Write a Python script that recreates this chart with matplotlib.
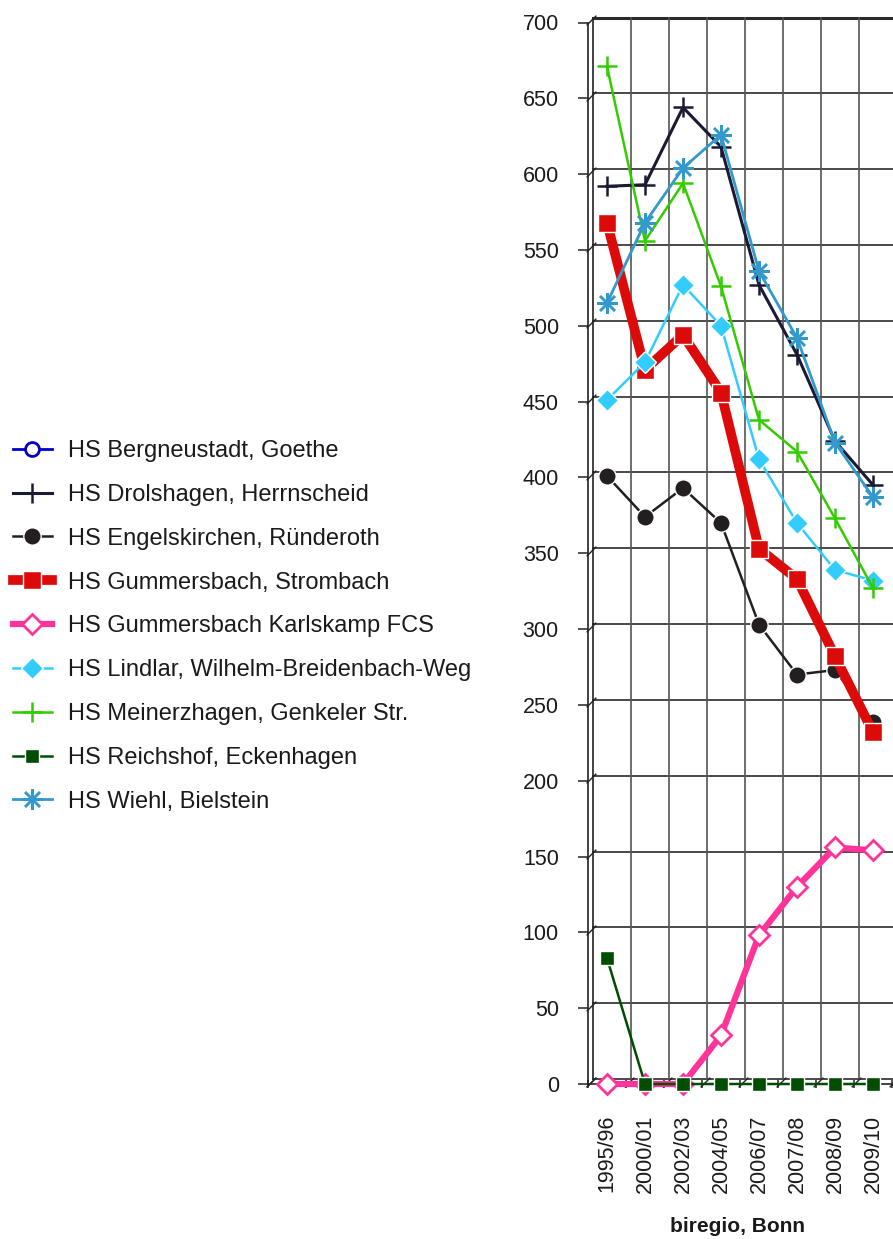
import numpy as np
import matplotlib
matplotlib.use("Agg")
import matplotlib.pyplot as plt
from matplotlib.transforms import ScaledTranslation

plt.rcParams["font.family"] = ["Liberation Sans", "DejaVu Sans"]

years = ["1995/96", "2000/01", "2002/03", "2004/05", "2006/07",
         "2007/08", "2008/09", "2009/10"]

bergneustadt  = [np.nan] * 8
drolshagen    = [592, 593, 644, 618, 527, 481, 424, 395]
engelskirchen = [401, 374, 393, 370, 303, 270, 273, 239]
strombach     = [568, 471, 494, 456, 353, 333, 282, 232]
karlskamp     = [0, 0, 0, 32, 98, 130, 156, 154]
lindlar       = [451, 476, 527, 500, 412, 370, 339, 332]
meinerzhagen  = [671, 556, 594, 526, 438, 417, 373, 327]
reichshof     = [83, 0, 0, 0, 0, 0, 0, 0]
wiehl         = [515, 568, 604, 626, 536, 492, 423, 387]

labels = ["HS Bergneustadt, Goethe", "HS Drolshagen, Herrnscheid",
          "HS Engelskirchen, Ründeroth", "HS Gummersbach, Strombach",
          "HS Gummersbach Karlskamp FCS", "HS Lindlar, Wilhelm-Breidenbach-Weg",
          "HS Meinerzhagen, Genkeler Str.", "HS Reichshof, Eckenhagen",
          "HS Wiehl, Bielstein"]

series = [bergneustadt, drolshagen, engelskirchen, strombach, karlskamp,
          lindlar, meinerzhagen, reichshof, wiehl]

styles = [
    dict(color="#0000cc", marker="o", ms=10, mfc="white", mec="#0000cc", mew=2, lw=2),
    dict(color="#1a1a33", marker="+", ms=14, mew=1.8, lw=2.2),
    dict(color="#231f20", marker="o", ms=12.5, mec="white", mew=1, lw=1.8),
    dict(color="#dd0a0a", marker="s", ms=13.5, mec="white", mew=1, lw=7),
    dict(color="#ff3399", marker="D", ms=10, mfc="white", mec="#ff3399", mew=2, lw=4.5),
    dict(color="#33ccff", marker="D", ms=11, mec="white", mew=1, lw=1.8),
    dict(color="#33cc00", marker="+", ms=15, mew=1.8, lw=1.8),
    dict(color="#004d00", marker="s", ms=10, mec="white", mew=1, lw=1.8),
    dict(color="#3399cc", marker=(8, 2, 0), ms=15, mew=1.8, lw=2),
]

W, H = 893, 1239
fig = plt.figure(figsize=(W / 100, H / 100), dpi=100)
x0, y0, ytop = 588, 1084, 22.5
xmax = 8.5
ax = fig.add_axes([x0 / W, 1 - y0 / H, (xmax + 0.5) * 38 / W, (y0 - ytop) / H])

x = np.arange(len(years))
lines = []
for vals, lab, st in zip(series, labels, styles):
    ln, = ax.plot(x, vals, label=lab, zorder=3, clip_on=False, **st)
    lines.append(ln)

ax.set_xlim(-0.5, xmax)
ax.set_ylim(0, 700)

# back wall grid (3D offset)
back = ax.transData + ScaledTranslation(0.05, 0.05, fig.dpi_scale_trans)
gcol = "#2a2a2a"
for yv in range(0, 701, 50):
    ax.plot([-0.5, xmax + 1], [yv, yv], transform=back, color=gcol,
            lw=2.2 if yv == 700 else 1.2, clip_on=False, zorder=1)
for k in range(10):
    ax.plot([k - 0.5, k - 0.5], [0, 700], transform=back,
            color="#555555" if k else "#222222", lw=1.2, clip_on=False, zorder=1)

# small diagonal connectors between front axis and back wall
mid = ax.transData + ScaledTranslation(0.025, 0.025, fig.dpi_scale_trans)
diag = [(-1, -1), (1, 1)]
ax.plot([-0.5] * 15, list(range(0, 701, 50)), transform=mid, ls="none",
        marker=diag, ms=7, mew=1, color="#222222", clip_on=False, zorder=1)
ax.plot(np.arange(9) - 0.5, [0] * 9, transform=mid, ls="none",
        marker=diag, ms=7, mew=1, color="#222222", clip_on=False, zorder=1)

for s in ["top", "right"]:
    ax.spines[s].set_visible(False)
ax.spines["left"].set_color("#222222")
ax.spines["bottom"].set_color("#222222")
ax.spines["left"].set_linewidth(1.2)
ax.spines["bottom"].set_linewidth(1.2)

ax.set_yticks(range(0, 701, 50))
ax.tick_params(axis="y", length=7, width=1.1, color="#222222", pad=14,
               labelsize=15.5, labelcolor="#1a1a1a")
ax.set_xticks(x)
ax.set_xticklabels(years, rotation=90, va="top", ha="center")
ax.tick_params(axis="x", length=0, pad=22, labelsize=15.5, labelcolor="#1a1a1a")
ax.set_xticks(np.arange(10) - 0.5, minor=True)
ax.tick_params(axis="x", which="minor", length=6, width=1.1, direction="inout",
               color="#222222")

fig.text(738 / W, 1 - 1227 / H, "biregio, Bonn", ha="center", va="center",
         fontsize=15, fontweight="bold", color="#1a1a1a")

fig.legend(handles=lines, labels=labels, loc="upper left",
           bbox_to_anchor=(13 / W, 1 - 440 / H), frameon=False, fontsize=17,
           handlelength=1.65, handletextpad=0.68, labelspacing=0.925,
           borderpad=0, borderaxespad=0, labelcolor="#1a1a1a")

fig.savefig("out.png", dpi=100)
